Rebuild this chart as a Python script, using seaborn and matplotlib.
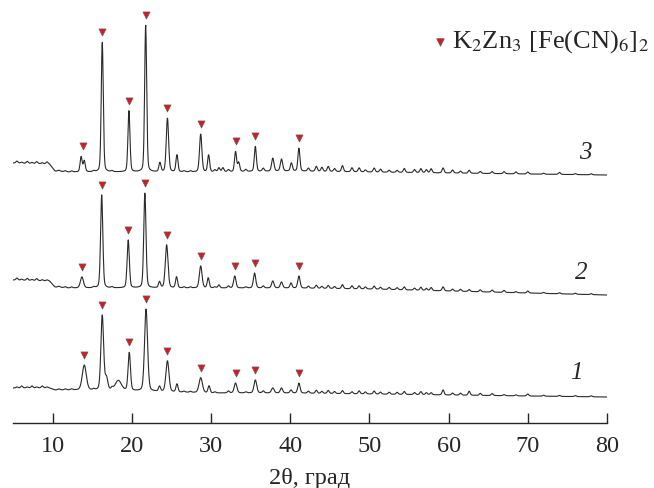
import numpy as np
import pandas as pd
import matplotlib
matplotlib.use("Agg")
import matplotlib.pyplot as plt
import seaborn as sns

# peak lists (2theta, height above baseline, width)
pos3 = [13.6, 14.0, 16.27, 19.64, 21.75, 23.55, 24.5, 25.7, 28.7, 29.7, 31.0, 31.5, 33.1, 33.5, 35.6, 37.8, 38.9, 40.15, 41.1]
h3 = [15, 11, 130, 61, 147, 9, 54, 17, 38, 17, 4, 4, 20, 9, 25, 13, 12, 8, 23]
w3 = [0.3, 0.3, 0.3, 0.3, 0.3, 0.3, 0.35, 0.3, 0.35, 0.3, 0.3, 0.3, 0.3, 0.3, 0.3, 0.35, 0.35, 0.3, 0.3]

pos2 = [13.7, 16.2, 19.55, 21.65, 23.5, 24.4, 25.65, 28.7, 29.65, 31.0, 33.0, 35.5, 37.8, 38.9, 40.1, 41.1]
h2 = [11, 93, 48, 95, 6, 43, 11, 22, 10, 3, 12, 15, 7, 6, 5, 12]
w2 = [0.45, 0.33, 0.33, 0.33, 0.3, 0.4, 0.3, 0.4, 0.3, 0.3, 0.35, 0.35, 0.35, 0.35, 0.3, 0.35]

pos1 = [14.0, 16.27, 16.8, 18.3, 19.68, 21.8, 23.5, 24.5, 25.7, 28.7, 29.75, 33.1, 35.6, 37.8, 38.9, 40.1, 41.1]
h1 = [25, 75, 12, 10, 38, 82, 5, 31, 8, 15, 7, 10, 13, 5, 5, 3, 10]
w1 = [0.6, 0.4, 0.4, 0.9, 0.35, 0.45, 0.3, 0.45, 0.3, 0.5, 0.3, 0.4, 0.4, 0.4, 0.35, 0.3, 0.35]

# small bumps in the background
minor_pos = [5.5, 6.1, 6.8, 7.4, 8.0, 8.7, 9.3, 10.8, 11.6, 12.4, 15.2, 17.5, 26.6, 27.4, 30.5, 32.2, 34.4,
             36.6, 42.3, 43.3, 44.0, 44.8, 45.6, 46.6, 47.8, 48.7, 49.5, 50.6, 51.4, 52.5, 53.5, 54.4, 55.7,
             56.5, 57.2, 57.8, 59.3, 60.5, 61.5, 62.6, 64.0, 65.5, 67.0, 68.5, 70.0, 72.0, 74.0, 76.0, 78.0]
minor3 = [2, 1, 2, 1, 2, 1, 2, 1, 1, 1, 1, 1, 1, 1, 2, 2, 2, 3, 3, 5, 4, 5, 3, 6, 4, 4, 2, 4, 3, 2, 2, 4, 3,
          4, 3, 4, 5, 3, 2, 3, 2, 2, 2, 2, 2, 1, 2, 1, 1]
minor2 = [2, 1, 2, 1, 2, 1, 1, 1, 1, 1, 1, 1, 1, 1, 1, 2, 1, 2, 2, 3, 2, 3, 2, 4, 3, 3, 2, 3, 2, 2, 2, 3, 2,
          3, 2, 3, 4, 2, 2, 2, 2, 2, 2, 1, 2, 1, 1, 1, 1]
minor1 = [1, 2, 1, 2, 1, 2, 1, 1, 1, 1, 1, 2, 1, 1, 1, 2, 1, 2, 2, 3, 2, 3, 2, 3, 2, 3, 2, 3, 2, 2, 2, 3, 2,
          3, 2, 2, 5, 2, 2, 4, 2, 2, 1, 1, 2, 1, 1, 1, 1]

# baselines (2theta, level)
base_x = [5, 9.6, 10.3, 12, 20, 30, 40, 50, 60, 70, 80]
base3 = [260, 259, 252, 251, 251, 251, 252, 251, 250, 249, 248]
base2 = [143, 142, 136, 135, 135, 135, 135, 134, 132, 130, 128]
base1 = [35, 35, 33, 33, 32, 30, 30, 29, 28, 27, 26]

# phase markers
mark3 = [13.8, 16.27, 19.64, 21.75, 24.5, 28.7, 33.1, 35.6, 41.1]
mark2 = [13.7, 16.2, 19.55, 21.65, 24.4, 28.7, 33.0, 35.5, 41.1]
mark1 = [13.95, 16.27, 19.68, 21.8, 24.5, 28.7, 33.1, 35.6, 41.1]

x = np.arange(5, 80.01, 0.04)


def profile(pos, hts, wid, minor, base):
    y = np.interp(x, base_x, base)
    for p, h, w in zip(pos + minor_pos, hts + minor, wid + [0.3] * len(minor_pos)):
        g = np.exp(-4 * np.log(2) * ((x - p) / w) ** 2)
        l = 1 / (1 + 4 * ((x - p) / w) ** 2)
        y = y + h * (0.75 * g + 0.25 * l)
    return y


traces = {"1": profile(pos1, h1, w1, minor1, base1),
          "2": profile(pos2, h2, w2, minor2, base2),
          "3": profile(pos3, h3, w3, minor3, base3)}
marks = {"1": mark1, "2": mark2, "3": mark3}

df = pd.concat([pd.DataFrame({"tt": x, "I": y, "s": k}) for k, y in traces.items()])
rows = []
for k, ms in marks.items():
    for m in ms:
        sel = np.abs(x - m) < 0.3
        rows.append((m, traces[k][sel].max() + 10))
dm = pd.DataFrame(rows, columns=["tt", "I"])

sns.set_style("ticks")
plt.rcParams["font.family"] = ["Liberation Serif", "DejaVu Serif"]
plt.rcParams["mathtext.fontset"] = "stix"

fig = plt.figure(figsize=(6.54, 4.88), dpi=100)
ax = fig.add_axes([13 / 654, 65 / 488, 594 / 654, 423 / 488])

sns.lineplot(data=df, x="tt", y="I", units="s", estimator=None, color="#2a2a2a", lw=0.8, ax=ax, legend=False)
sns.scatterplot(data=dm, x="tt", y="I", marker="v", color="#e3141c", edgecolor="#606060", linewidth=0.5,
                s=26, ax=ax, legend=False, zorder=3)

# legend
ax.scatter([58.9], [381], marker="v", color="#e3141c", edgecolor="#606060", linewidth=0.5, s=30, clip_on=False)
ax.text(60.4, 375, "K$_2$Zn$_3$ [Fe(CN)$_6$]$_2$", fontsize=19, va="baseline", ha="left")

for k, (tx, ty) in {"3": (77.2, 270), "2": (76.7, 150), "1": (76.1, 50)}.items():
    ax.text(tx, ty, k, fontsize=18, style="italic", ha="center", va="center")

ax.set_xlim(5, 80)
ax.set_ylim(0, 423)
ax.set_xticks([10, 20, 30, 40, 50, 60, 70, 80])
ax.set_yticks([])
ax.tick_params(axis="x", direction="in", length=7, width=1, labelsize=17.5, pad=9)
for sp in ["left", "right", "top"]:
    ax.spines[sp].set_visible(False)
ax.spines["bottom"].set_linewidth(1.0)
ax.set_xlabel("2θ, град", fontsize=17.5, labelpad=8)
ax.set_ylabel("")

fig.savefig("out.png", dpi=100)
